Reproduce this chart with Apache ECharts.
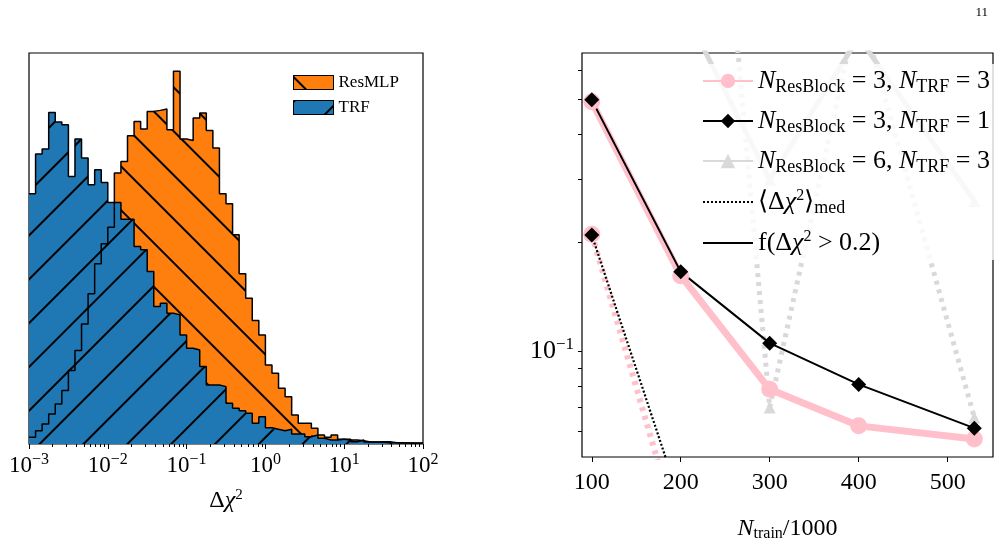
<!DOCTYPE html>
<html>
<head>
<meta charset="utf-8">
<script src="https://cdn.jsdelivr.net/npm/echarts@6/dist/echarts.min.js"></script>
<style>
html, body { margin: 0; padding: 0; background: #fff; }
#chart { width: 1000px; height: 547px; }
</style>
</head>
<body>
<div id="chart"></div>
<script>
// Histogram: 12 log bins per decade from 1e-3 to 1e2
var binLo = -3, binHi = 2, nBins = 60;
var trfCounts = [750, 869, 884, 994, 965, 957, 802, 914, 857, 777, 822, 784,
    724, 724, 674, 674, 592, 582, 517, 412, 422, 392, 387, 327,
    287, 282, 232, 177, 177, 172, 122, 107, 100, 92, 62, 82,
    49, 44, 40, 44, 30, 30, 22, 27, 17, 12, 12, 14,
    14, 7, 12, 6, 6, 7, 7, 4, 4, 3, 3, 3];
var resmlpCounts = [20, 40, 60, 90, 120, 160, 220, 280, 360, 450, 540, 600,
    650, 812, 847, 924, 967, 944, 997, 1000, 1004, 942, 1117, 914,
    910, 977, 992, 940, 887, 750, 720, 627, 510, 437, 370, 327,
    237, 212, 167, 142, 87, 62, 62, 47, 27, 20, 27, 14,
    12, 12, 10, 6, 6, 5, 4, 4, 3, 3, 2, 2];

// Right panel
var nTrain = [100, 200, 300, 400, 530];
var fRes3Trf3 = [0.491, 0.162, 0.0785, 0.0622, 0.0572];
var medRes3Trf3 = [0.211, 0.030, 0.020, 0.015, 0.012];
var fRes3Trf1 = [0.497, 0.166, 0.1054, 0.081, 0.0613];
var medRes3Trf1 = [0.21, 0.038, 0.025, 0.020, 0.015];
var fRes6Trf3 = [2.9, 0.92, 0.299, 0.74, 0.261];
var medRes6Trf3 = [40, 40, 0.0699, 0.92, 0.0656];
var xTicks = [100, 200, 300, 400, 500];
var yMinorTicks = [0.06, 0.07, 0.08, 0.09, 0.1, 0.2, 0.3, 0.4, 0.5, 0.6];

var serif = 'Liberation Serif';

function histPoints(counts) {
    var pts = [];
    for (var i = 0; i < counts.length; i++) {
        pts.push([Math.pow(10, binLo + (binHi - binLo) * i / nBins), counts[i]]);
    }
    pts.push([Math.pow(10, binHi), counts[counts.length - 1]]);
    return pts;
}
function pairs(xs, ys) {
    return xs.map(function (x, i) { return [x, ys[i]]; });
}
function hatch(rot) {
    return {
        symbol: 'rect', symbolSize: 1, color: '#000',
        dashArrayX: [1, 0], dashArrayY: [1.6, 29], rotation: rot
    };
}

var legendText = {
    a: '{i|N}{s|ResBlock}{t| = 3, }{i|N}{s|TRF}{t| = 3}',
    b: '{i|N}{s|ResBlock}{t| = 3, }{i|N}{s|TRF}{t| = 1}',
    c: '{i|N}{s|ResBlock}{t| = 6, }{i|N}{s|TRF}{t| = 3}',
    d: '{t|⟨Δ}{i|χ}{p|2}{t|⟩}{s|med}',
    e: '{t|f(Δ}{i|χ}{p|2}{t| > 0.2)}'
};
var legendRich = {
    i: { fontFamily: serif, fontStyle: 'italic', fontSize: 26, color: '#000' },
    t: { fontFamily: serif, fontSize: 26, color: '#000' },
    s: { fontFamily: serif, fontSize: 18, color: '#000', padding: [12, 0, 0, 0] },
    p: { fontFamily: serif, fontSize: 16, color: '#000', padding: [0, 0, 12, 0] }
};
var nameRich = {
    i: { fontFamily: serif, fontStyle: 'italic', fontSize: 24, color: '#000' },
    t: { fontFamily: serif, fontSize: 24, color: '#000' },
    s: { fontFamily: serif, fontSize: 16, color: '#000', padding: [11, 0, 0, 0] },
    p: { fontFamily: serif, fontSize: 15, color: '#000', padding: [0, 0, 11, 0] }
};

var chart = echarts.init(document.getElementById('chart'));
var option = {
    animation: false,
    backgroundColor: '#fff',
    grid: [
        { left: 29, top: 53, width: 394, height: 391, show: true, borderColor: '#000', borderWidth: 1.2 },
        { left: 582, top: 53, width: 411, height: 407, show: true, borderColor: '#000', borderWidth: 1.2 }
    ],
    xAxis: [
        {
            gridIndex: 0, type: 'log', logBase: 10, min: 1e-3, max: 1e2,
            axisLine: { show: false },
            axisTick: { show: true, inside: false, length: 5, lineStyle: { color: '#000' } },
            minorTick: { show: true, splitNumber: 9, length: 3, lineStyle: { color: '#000' } },
            splitLine: { show: false },
            axisLabel: {
                margin: 8,
                formatter: function (v) {
                    var e = Math.round(Math.log10(v));
                    return '{b|10}{e|' + (e < 0 ? '−' + (-e) : e) + '}';
                },
                rich: {
                    b: { fontFamily: serif, fontSize: 23, color: '#000' },
                    e: { fontFamily: serif, fontSize: 16, color: '#000', padding: [0, 0, 12, 0] }
                }
            },
            name: '{t|Δ}{i|χ}{p|2}', nameLocation: 'middle', nameGap: 44,
            nameTextStyle: { rich: nameRich }
        },
        {
            gridIndex: 1, type: 'value', min: 89, max: 551,
            axisLine: { show: false },
            splitLine: { show: false },
            axisTick: { show: true, length: 5, customValues: xTicks, lineStyle: { color: '#000' } },
            axisLabel: { customValues: xTicks, fontFamily: serif, fontSize: 24, color: '#000', margin: 14 },
            name: '{i|N}{s|train}{t|/1000}', nameLocation: 'middle', nameGap: 58,
            nameTextStyle: { rich: nameRich }
        }
    ],
    yAxis: [
        {
            gridIndex: 0, type: 'value', min: 0, max: 1172,
            axisLine: { show: false }, axisTick: { show: false },
            axisLabel: { show: false }, splitLine: { show: false }
        },
        {
            gridIndex: 1, type: 'log', logBase: 10, min: 0.051, max: 0.67,
            axisLine: { show: false }, splitLine: { show: false },
            axisTick: { show: true, length: 4, customValues: yMinorTicks, lineStyle: { color: '#000' } },
            axisLabel: {
                customValues: [0.1], margin: 8,
                formatter: function () { return '{b|10}{e|−1}'; },
                rich: {
                    b: { fontFamily: serif, fontSize: 26, color: '#000' },
                    e: { fontFamily: serif, fontSize: 17, color: '#000', padding: [0, 0, 14, 0] }
                }
            }
        }
    ],
    legend: [
        {
            data: [{ name: 'ResMLP', icon: 'rect' }, { name: 'TRF', icon: 'rect' }],
            left: 288, top: 69, orient: 'vertical',
            itemWidth: 40, itemHeight: 14, itemGap: 8,
            itemStyle: { borderColor: '#000', borderWidth: 1 },
            textStyle: { fontFamily: serif, fontSize: 17, color: '#000' }
        },
        {
            data: ['a', 'b', 'c',
                { name: 'd', itemStyle: { opacity: 0 } },
                { name: 'e', itemStyle: { opacity: 0 } }],
            right: 6, top: 64, orient: 'vertical',
            itemWidth: 50, itemHeight: 18, itemGap: 12,
            backgroundColor: 'rgba(255,255,255,0.8)', padding: [4, 4, 4, 4],
            formatter: function (n) { return legendText[n]; },
            textStyle: { rich: legendRich }
        }
    ],
    series: [
        {
            name: 'ResMLP', type: 'line', xAxisIndex: 0, yAxisIndex: 0, step: 'end',
            symbol: 'none', data: histPoints(resmlpCounts),
            lineStyle: { color: '#000', width: 1.5 },
            itemStyle: { color: '#ff7f0e', decal: hatch(Math.PI / 4) },
            areaStyle: { color: '#ff7f0e', opacity: 1 }
        },
        {
            name: 'TRF', type: 'line', xAxisIndex: 0, yAxisIndex: 0, step: 'end',
            symbol: 'none', data: histPoints(trfCounts),
            lineStyle: { color: '#000', width: 1.5 },
            itemStyle: { color: '#1f77b4', decal: hatch(-Math.PI / 4) },
            areaStyle: { color: '#1f77b4', opacity: 1 }
        },
        {
            name: 'c', type: 'line', xAxisIndex: 1, yAxisIndex: 1, data: pairs(nTrain, fRes6Trf3),
            symbol: 'triangle', symbolSize: 12, color: '#d9d9d9',
            lineStyle: { width: 5, color: '#d9d9d9' }
        },
        {
            name: 'c_med', type: 'line', xAxisIndex: 1, yAxisIndex: 1, data: pairs(nTrain, medRes6Trf3),
            symbol: 'triangle', symbolSize: 12, color: '#d9d9d9',
            lineStyle: { width: 5, color: '#d9d9d9', type: [4, 5] }
        },
        {
            name: 'a', type: 'line', xAxisIndex: 1, yAxisIndex: 1, data: pairs(nTrain, fRes3Trf3),
            symbol: 'circle', symbolSize: 17, color: '#ffc0cb',
            lineStyle: { width: 7, color: '#ffc0cb' }
        },
        {
            name: 'a_med', type: 'line', xAxisIndex: 1, yAxisIndex: 1, data: pairs(nTrain, medRes3Trf3),
            symbol: 'circle', symbolSize: 17, color: '#ffc0cb',
            lineStyle: { width: 6, color: '#ffc0cb', type: [4, 5] }
        },
        {
            name: 'b', type: 'line', xAxisIndex: 1, yAxisIndex: 1, data: pairs(nTrain, fRes3Trf1),
            symbol: 'diamond', symbolSize: 15, color: '#000',
            lineStyle: { width: 2, color: '#000' }
        },
        {
            name: 'b_med', type: 'line', xAxisIndex: 1, yAxisIndex: 1, data: pairs(nTrain, medRes3Trf1),
            symbol: 'diamond', symbolSize: 15, color: '#000',
            lineStyle: { width: 2.2, color: '#000', type: [2, 2] }
        },
        {
            name: 'd', type: 'line', xAxisIndex: 1, yAxisIndex: 1, data: [],
            symbol: 'none', color: '#000', lineStyle: { width: 2.5, color: '#000', type: [2, 2] }
        },
        {
            name: 'e', type: 'line', xAxisIndex: 1, yAxisIndex: 1, data: [],
            symbol: 'none', color: '#000', lineStyle: { width: 2, color: '#000' }
        }
    ],
    graphic: [
        { type: 'text', right: 12, top: 6, style: { text: '11', fontFamily: serif, fontSize: 13, fill: '#000' } }
    ]
};
chart.setOption(option);
</script>
</body>
</html>
